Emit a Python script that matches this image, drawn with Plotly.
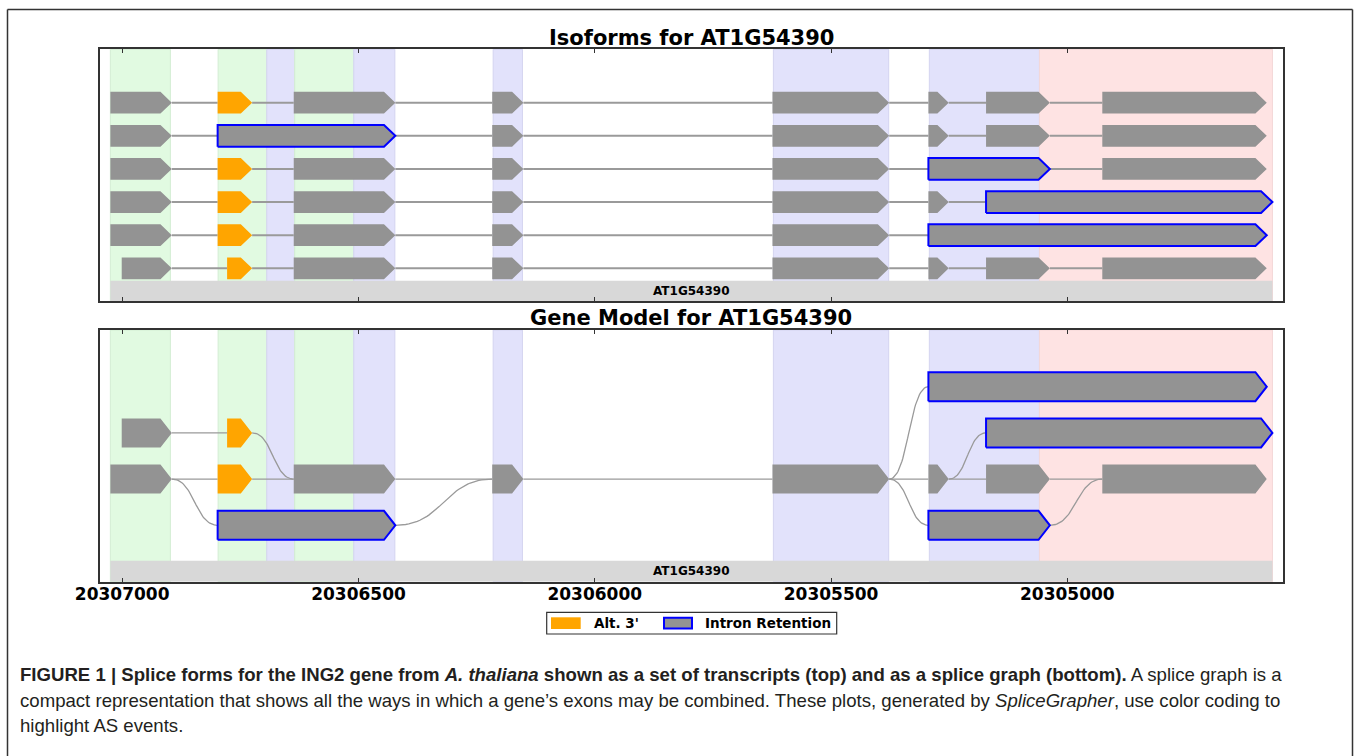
import numpy as np
import plotly.graph_objects as go

W, H = 1354, 756

# ---------------- data ----------------
gene_name = "AT1G54390"
gene_start = 20307025
gene_end = 20304566

exon_names = ["E1", "E1s", "A3", "A3s", "E3", "IR1", "E4", "E5", "E6", "E7", "IR2", "E8", "IR3", "IR4"]
exon_left = [20307025, 20307001, 20306798, 20306778, 20306637, 20306798, 20306217,
             20305624, 20305294, 20305172, 20305294, 20304926, 20305172, 20305294]
exon_right = [20306895, 20306895, 20306725, 20306725, 20306422, 20306422, 20306151,
              20305377, 20305251, 20305037, 20305037, 20304578, 20304566, 20304578]
exon_kind = ["exon", "exon", "alt3", "alt3", "exon", "ir", "exon",
             "exon", "exon", "exon", "ir", "exon", "ir", "ir"]

isoforms = [
    ["E1", "A3", "E3", "E4", "E5", "E6", "E7", "E8"],
    ["E1", "IR1", "E4", "E5", "E6", "E7", "E8"],
    ["E1", "A3", "E3", "E4", "E5", "IR2", "E8"],
    ["E1", "A3", "E3", "E4", "E5", "E6", "IR3"],
    ["E1", "A3", "E3", "E4", "E5", "IR4"],
    ["E1s", "A3s", "E3", "E4", "E5", "E6", "E7", "E8"],
]

graph_nodes = ["IR4", "E1s", "A3s", "IR3", "E1", "A3", "E3", "E4", "E5", "E6", "E7", "E8", "IR1", "IR2"]
graph_levels = [4, 3, 3, 3, 2, 2, 2, 2, 2, 2, 2, 2, 1, 1]
edge_from = ["E1s", "A3s", "E1", "E1", "A3", "E3", "IR1", "E4", "E5", "E5", "E5", "E6", "E6", "E7", "IR2"]
edge_to = ["A3s", "E3", "A3", "IR1", "E3", "E4", "E4", "E5", "IR4", "E6", "IR2", "E7", "IR3", "E8", "E8"]

event_left = [20307025, 20306797, 20306694, 20306635, 20306510, 20306215, 20305622, 20305292, 20305059]
event_right = [20306898, 20306694, 20306635, 20306510, 20306423, 20306153, 20305378, 20305059, 20304566]
event_kind = ["green", "green", "blue", "green", "blue", "blue", "blue", "blue", "pink"]

tick_vals = [20307000, 20306500, 20306000, 20305500, 20305000]
x_range = [20307048, 20304543]

legend_labels = ["Alt. 3'", "Intron Retention"]

# ---------------- styles ----------------
GRAY = "#939393"
ORANGE = "#FFA500"
BLUE = "#0000FF"
EVENT_FILL = {"green": "#E1FAE1", "blue": "#E2E2FB", "pink": "#FEE3E3"}
EVENT_EDGE = {"green": "#D3EDD3", "blue": "#D4D4F0", "pink": "#F4D8D8"}
TIP = 24
FONT = "DejaVu Sans"

idx = {n: i for i, n in enumerate(exon_names)}


def px(x):
    return x / W


def py(y):
    return 1 - y / H


def polygon(name, yc, h):
    i = idx[name]
    L, R = exon_left[i], exon_right[i]
    t = min(TIP, (L - R) * 0.6)
    xs = [L, R + t, R, R + t, L, L, None]
    ys = [yc - h, yc - h, yc, yc + h, yc + h, yc - h, None]
    return xs, ys


fig = go.Figure()

# ---------- top panel: isoforms ----------
TOP_H = 0.328
line_x, line_y = [], []
polys = {"exon": ([], []), "alt3": ([], []), "ir": ([], [])}
n_iso = len(isoforms)
for k, iso in enumerate(isoforms):
    yc = n_iso - k
    for a, b in zip(iso[:-1], iso[1:]):
        line_x += [exon_right[idx[a]], exon_left[idx[b]], None]
        line_y += [yc, yc, None]
    for e in iso:
        xs, ys = polygon(e, yc, TOP_H)
        polys[exon_kind[idx[e]]][0].extend(xs)
        polys[exon_kind[idx[e]]][1].extend(ys)

fig.add_trace(go.Scatter(x=line_x, y=line_y, mode="lines", line=dict(color="#9A9A9A", width=2),
                         xaxis="x", yaxis="y", hoverinfo="skip", showlegend=False))


def add_polys(p, xa, ya):
    fig.add_trace(go.Scatter(x=p["exon"][0], y=p["exon"][1], mode="lines", fill="toself",
                             fillcolor=GRAY, line=dict(width=0, color=GRAY),
                             xaxis=xa, yaxis=ya, hoverinfo="skip", showlegend=False))
    fig.add_trace(go.Scatter(x=p["alt3"][0], y=p["alt3"][1], mode="lines", fill="toself",
                             fillcolor=ORANGE, line=dict(width=0, color=ORANGE),
                             xaxis=xa, yaxis=ya, hoverinfo="skip", showlegend=False))
    fig.add_trace(go.Scatter(x=p["ir"][0], y=p["ir"][1], mode="lines", fill="toself",
                             fillcolor=GRAY, line=dict(width=2, color=BLUE),
                             xaxis=xa, yaxis=ya, hoverinfo="skip", showlegend=False))


add_polys(polys, "x", "y")

# ---------- bottom panel: splice graph ----------
BOT_H = 0.314
level_of = dict(zip(graph_nodes, graph_levels))
ex, ey = [], []
tt = np.linspace(0, 1, 40)
for a, b in zip(edge_from, edge_to):
    x0, y0 = exon_right[idx[a]], level_of[a]
    x1, y1 = exon_left[idx[b]], level_of[b]
    if y0 == y1:
        ex += [x0, x1, None]
        ey += [y0, y1, None]
    else:
        xm = (x0 + x1) / 2
        bx = (1 - tt) ** 3 * x0 + 3 * (1 - tt) ** 2 * tt * xm + 3 * (1 - tt) * tt ** 2 * xm + tt ** 3 * x1
        by = (1 - tt) ** 3 * y0 + 3 * (1 - tt) ** 2 * tt * y0 + 3 * (1 - tt) * tt ** 2 * y1 + tt ** 3 * y1
        ex += list(bx) + [None]
        ey += list(by) + [None]
fig.add_trace(go.Scatter(x=ex, y=ey, mode="lines", line=dict(color="#9A9A9A", width=1.3),
                         xaxis="x2", yaxis="y2", hoverinfo="skip", showlegend=False))

polys2 = {"exon": ([], []), "alt3": ([], []), "ir": ([], [])}
for n, lv in zip(graph_nodes, graph_levels):
    xs, ys = polygon(n, lv, BOT_H)
    polys2[exon_kind[idx[n]]][0].extend(xs)
    polys2[exon_kind[idx[n]]][1].extend(ys)
add_polys(polys2, "x2", "y2")

# ---------- shading & gene bars ----------
TOP_RANGE = [0.013, 7.612]
BOT_RANGE = [-0.221, 5.227]
TOP_BAR = 0.626
BOT_BAR = 0.234
shapes = []
for xr, yr in (("x", "y"), ("x2", "y2")):
    for L, R, k in zip(event_left, event_right, event_kind):
        shapes.append(dict(type="rect", xref=xr, yref=yr + " domain", x0=L, x1=R, y0=0, y1=1,
                           fillcolor=EVENT_FILL[k], line=dict(color=EVENT_EDGE[k], width=1), layer="below"))
shapes.append(dict(type="rect", xref="x", yref="y", x0=gene_start, x1=gene_end, y0=TOP_RANGE[0], y1=TOP_BAR,
                   fillcolor="#D8D8D8", line=dict(width=0), layer="below"))
shapes.append(dict(type="rect", xref="x2", yref="y2", x0=gene_start, x1=gene_end, y0=BOT_RANGE[0], y1=BOT_BAR,
                   fillcolor="#D8D8D8", line=dict(width=0), layer="below"))

annotations = []
mid = (gene_start + gene_end) / 2
annotations.append(dict(x=mid, y=(TOP_RANGE[0] + TOP_BAR) / 2, xref="x", yref="y", text=gene_name,
                        xanchor="center", yanchor="middle",
                        showarrow=False, font=dict(family=FONT, size=12, color="black", weight="bold")))
annotations.append(dict(x=mid, y=(BOT_RANGE[0] + BOT_BAR) / 2, xref="x2", yref="y2", text=gene_name,
                        xanchor="center", yanchor="middle",
                        showarrow=False, font=dict(family=FONT, size=12, color="black", weight="bold")))

# panel titles
AX_L, AX_R = 99.5, 1283.3
cx = px((AX_L + AX_R) / 2)
annotations.append(dict(x=cx, y=py(37.5), xref="paper", yref="paper", text="Isoforms for " + gene_name,
                        xanchor="center", yanchor="middle",
                        showarrow=False, font=dict(family=FONT, size=21, color="black", weight="bold")))
annotations.append(dict(x=cx, y=py(317.5), xref="paper", yref="paper", text="Gene Model for " + gene_name,
                        xanchor="center", yanchor="middle",
                        showarrow=False, font=dict(family=FONT, size=21, color="black", weight="bold")))

# ---------- legend ----------
shapes.append(dict(type="rect", xref="paper", yref="paper", x0=px(546.7), x1=px(836.7), y0=py(634), y1=py(612.3),
                   fillcolor="white", line=dict(color="#333333", width=1.2)))
shapes.append(dict(type="rect", xref="paper", yref="paper", x0=px(551), x1=px(580.7), y0=py(629), y1=py(617.3),
                   fillcolor=ORANGE, line=dict(width=0)))
shapes.append(dict(type="rect", xref="paper", yref="paper", x0=px(664), x1=px(692), y0=py(628.5), y1=py(617.8),
                   fillcolor=GRAY, line=dict(color=BLUE, width=2)))
annotations.append(dict(x=px(591.5), y=py(623.3), xref="paper", yref="paper", text=legend_labels[0],
                        xanchor="left", yanchor="middle", showarrow=False,
                        font=dict(family=FONT, size=13.5, color="black", weight="bold")))
annotations.append(dict(x=px(703), y=py(623.3), xref="paper", yref="paper", text=legend_labels[1],
                        xanchor="left", yanchor="middle", showarrow=False,
                        font=dict(family=FONT, size=13.5, color="black", weight="bold")))

# ---------- outer frame ----------
shapes.append(dict(type="line", xref="paper", yref="paper", x0=px(7.5), x1=px(1352.5), y0=py(9.5), y1=py(9.5),
                   line=dict(color="#333333", width=1.5)))
shapes.append(dict(type="line", xref="paper", yref="paper", x0=px(7.5), x1=px(7.5), y0=py(9.5), y1=py(760),
                   line=dict(color="#333333", width=1.5)))
shapes.append(dict(type="line", xref="paper", yref="paper", x0=px(1352.5), x1=px(1352.5), y0=py(9.5), y1=py(760),
                   line=dict(color="#333333", width=1.5)))

# ---------- caption ----------
CAP = "Liberation Sans"
cap_lines = [
    "<b>FIGURE 1 | Splice forms for the ING2 gene from <i>A. thaliana</i> shown as a set of transcripts (top) "
    "and as a splice graph (bottom).</b> A splice graph is a",
    "compact representation that shows all the ways in which a gene\u2019s exons may be combined. "
    "These plots, generated by <i>SpliceGrapher</i>, use color coding to",
    "highlight AS events.",
]
for t, yy in zip(cap_lines, [674.5, 700, 725.5]):
    annotations.append(dict(x=px(18), y=py(yy), xref="paper", yref="paper", text=t, xanchor="left",
                            yanchor="middle", showarrow=False, font=dict(family=CAP, size=18.6, color="#231F20")))

# ---------- axes ----------
axis_common = dict(range=x_range, tickvals=tick_vals, ticks="inside", ticklen=4, tickcolor="#333333",
                   showline=True, linecolor="#333333", linewidth=1.5, mirror="allticks",
                   showgrid=False, zeroline=False, domain=[px(AX_L), px(AX_R)], automargin=False)
yax_common = dict(showline=True, linecolor="#333333", linewidth=1.5, mirror=True, showgrid=False,
                  zeroline=False, showticklabels=False, ticks="", automargin=False)

fig.update_layout(
    width=W, height=H, autosize=False,
    margin=dict(l=0, r=0, t=0, b=0, pad=0, autoexpand=False),
    paper_bgcolor="white", plot_bgcolor="white",
    showlegend=False,
    xaxis=dict(**axis_common, anchor="y", showticklabels=False),
    yaxis=dict(**yax_common, range=TOP_RANGE, domain=[py(301), py(49.3)], anchor="x"),
    xaxis2=dict(**axis_common, anchor="y2", showticklabels=True,
                tickfont=dict(family=FONT, size=17, color="black", weight="bold"),
                tickformat="d", ticklabelstandoff=-4),
    yaxis2=dict(**yax_common, range=BOT_RANGE, domain=[py(581.7), py(330)], anchor="x2"),
    shapes=shapes,
    annotations=annotations,
)

fig.write_html(
    "out.html",
    config={"displayModeBar": False},
    post_script="document.body.style.margin='0';document.body.style.overflow='hidden';",
)
